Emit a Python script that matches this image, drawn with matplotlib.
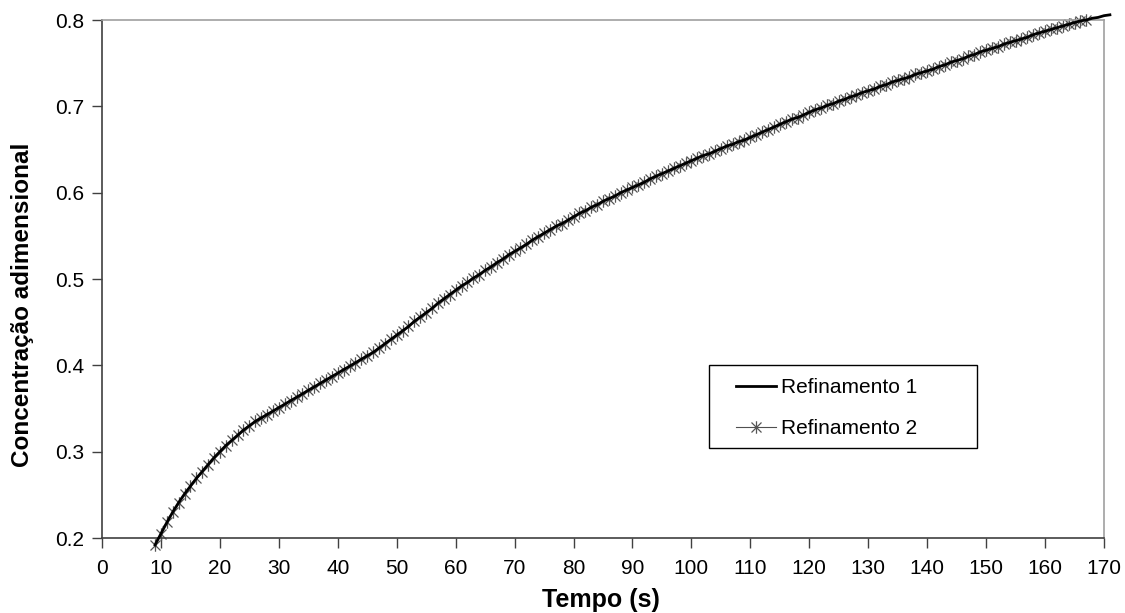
import matplotlib
matplotlib.use("Agg")
import matplotlib.pyplot as plt
from matplotlib.path import Path
from matplotlib.patches import Rectangle

# ---- data ----
tempo = list(range(9, 172))
conc = [
    0.192, 0.205, 0.218, 0.230, 0.241, 0.251, 0.260, 0.269, 0.277, 0.285,
    0.293, 0.300, 0.307, 0.313, 0.319, 0.325, 0.330, 0.335, 0.339, 0.343,
    0.347, 0.351, 0.355, 0.359, 0.363, 0.367, 0.371, 0.375, 0.379, 0.383,
    0.387, 0.391, 0.395, 0.399, 0.403, 0.407, 0.411, 0.415, 0.420, 0.425,
    0.430, 0.435, 0.440, 0.445, 0.451, 0.456, 0.461, 0.466, 0.472, 0.477,
    0.482, 0.487, 0.492, 0.496, 0.501, 0.505, 0.510, 0.514, 0.519, 0.523,
    0.528, 0.532, 0.536, 0.540, 0.545, 0.549, 0.553, 0.557, 0.561, 0.564,
    0.568, 0.572, 0.576, 0.579, 0.583, 0.586, 0.590, 0.593, 0.596, 0.600,
    0.603, 0.606, 0.609, 0.612, 0.616, 0.619, 0.622, 0.625, 0.628, 0.631,
    0.634, 0.637, 0.640, 0.643, 0.645, 0.648, 0.651, 0.654, 0.656, 0.659,
    0.661, 0.664, 0.667, 0.670, 0.673, 0.676, 0.679, 0.682, 0.685, 0.687,
    0.690, 0.693, 0.696, 0.698, 0.701, 0.703, 0.706, 0.708, 0.711, 0.713,
    0.716, 0.718, 0.720, 0.723, 0.725, 0.728, 0.730, 0.732, 0.734, 0.737,
    0.739, 0.741, 0.743, 0.746, 0.748, 0.751, 0.753, 0.755, 0.758, 0.760,
    0.763, 0.765, 0.767, 0.769, 0.772, 0.774, 0.776, 0.778, 0.780, 0.783,
    0.785, 0.787, 0.789, 0.791, 0.793, 0.795, 0.797, 0.799, 0.800, 0.802,
    0.803, 0.805, 0.806,
]
ref1_t, ref1_c = tempo, conc
ref2_t, ref2_c = tempo[:159], conc[:159]   # markers stop near t = 167

x_ticks = list(range(0, 171, 10))
y_ticks = [0.2, 0.3, 0.4, 0.5, 0.6, 0.7, 0.8]
labels = ["Refinamento 1", "Refinamento 2"]

plt.rcParams["font.family"] = ["Liberation Sans", "DejaVu Sans"]

W, H = 1125, 613

# Excel-like asterisk marker: an "x" with a vertical bar
ast = Path([(-1, -1), (1, 1), (-1, 1), (1, -1), (0, -1.25), (0, 1.25)],
           [Path.MOVETO, Path.LINETO, Path.MOVETO, Path.LINETO,
            Path.MOVETO, Path.LINETO])

fig = plt.figure(figsize=(W / 100, H / 100), dpi=100)
ax = fig.add_axes([102 / W, 1 - 538 / H, 1002 / W, 518 / H])

ax.plot(ref2_t, ref2_c, color="#505050", lw=0.8, marker=ast, ms=9,
        mec="#555555", mew=0.9, mfc="none", label=labels[1], zorder=2,
        clip_on=False)
ax.plot(ref1_t, ref1_c, color="black", lw=2.0, label=labels[0], zorder=3,
        clip_on=False)

ax.set_xlim(0, 170)
ax.set_ylim(0.2, 0.8)
ax.set_xticks(x_ticks)
ax.set_yticks(y_ticks)
ax.set_yticklabels([f"{v:.1f}" for v in y_ticks])
ax.tick_params(axis="both", direction="out", length=7, width=1,
               color="#404040", labelsize=15, labelcolor="black", pad=6)
ax.tick_params(axis="x", pad=8)

for side in ("left", "bottom"):
    ax.spines[side].set_color("#404040")
    ax.spines[side].set_linewidth(1.2)
for side in ("top", "right"):
    ax.spines[side].set_color("#a0a0a0")
    ax.spines[side].set_linewidth(1.2)

ax.set_xlabel("Tempo (s)", fontsize=18, fontweight="bold")
ax.xaxis.set_label_coords(0.498, -0.12)
ax.xaxis.label.set_verticalalignment("center")
ax.set_ylabel("Concentração adimensional", fontsize=17.5, fontweight="bold")
ax.yaxis.set_label_coords(-0.079, 0.45)
ax.yaxis.label.set_verticalalignment("center")

# legend box (Excel style, wide padding)
fig.patches.append(Rectangle((709 / W, 1 - 448 / H), 268 / W, 83 / H,
                             transform=fig.transFigure, fill=True,
                             facecolor="white", edgecolor="black", lw=1.0,
                             zorder=4))
h, l = ax.get_legend_handles_labels()
leg = fig.legend([h[1], h[0]], [l[1], l[0]], loc="center left",
                 bbox_to_anchor=(736 / W, 1 - 408 / H), fontsize=15,
                 frameon=False, handlelength=1.9, handletextpad=0.25,
                 labelspacing=1.05, borderpad=0, borderaxespad=0)
leg.set_zorder(5)

fig.savefig("out.png", dpi=100)
